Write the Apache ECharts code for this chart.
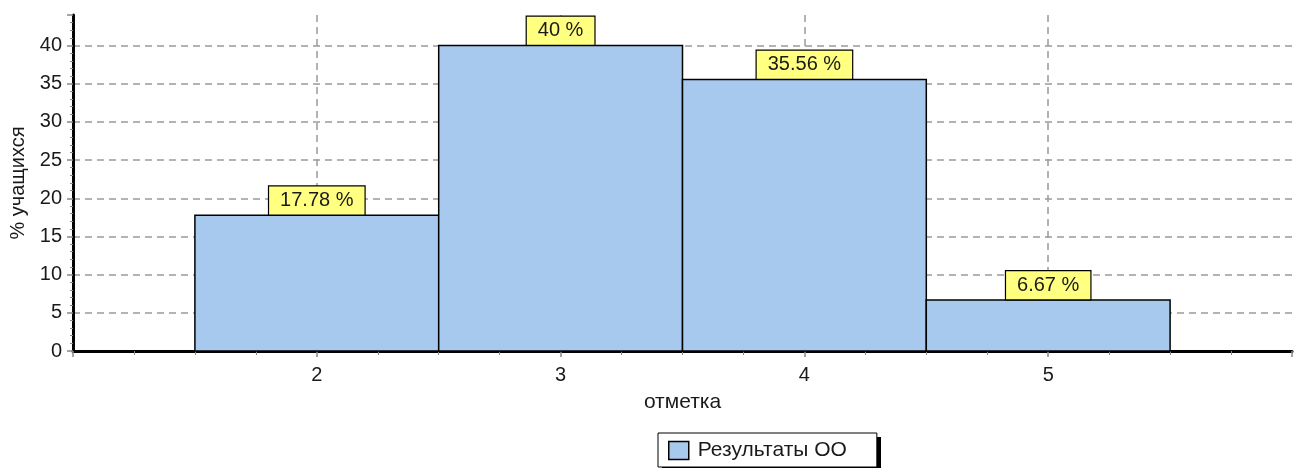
<!DOCTYPE html>
<html><head><meta charset="utf-8">
<script src="https://cdn.jsdelivr.net/npm/echarts@6/dist/echarts.min.js"></script>
<style>html,body{margin:0;padding:0;background:#fff}#c{width:1295px;height:468px}</style>
</head><body><div id="c"></div>
<script>
var marks = [2, 3, 4, 5];
var percents = [17.78, 40, 35.56, 6.67];
var seriesName = 'Результаты ОО';
var xTitle = 'отметка';
var yTitle = '% учащихся';

var data = marks.map(function(m, i){ return [m, percents[i]]; });
var FONT = 'Liberation Sans, Arial, sans-serif';
var BAR = '#a8c9ee';
var TXT = '#1a1a1a';

var chart = echarts.init(document.getElementById('c'));
chart.setOption({
  animation: false,
  backgroundColor: '#fff',
  textStyle: {fontFamily: FONT},
  grid: {left: 73, right: 2, top: 15, bottom: 117},
  graphic: [{
    type: 'rect', left: 662, top: 437, z: 0,
    shape: {width: 219, height: 33},
    style: {fill: '#000'}
  }],
  legend: {
    left: 658, top: 433,
    padding: [7, 30, 6, 10],
    itemWidth: 20, itemHeight: 18,
    backgroundColor: '#fff', borderColor: '#000', borderWidth: 1,
    z: 10,
    textStyle: {fontSize: 21, color: TXT, fontFamily: FONT, padding: [0,0,0,4]},
    data: [{name: seriesName, icon: 'rect', itemStyle: {color: BAR, borderColor: '#000', borderWidth: 1.5}}]
  },
  xAxis: {
    type: 'value', min: 1, max: 6, interval: 1,
    name: xTitle, nameLocation: 'middle', nameGap: 41,
    nameTextStyle: {fontSize: 21, color: TXT, fontFamily: FONT},
    axisLine: {onZero: false, lineStyle: {color: '#000', width: 3}},
    axisTick: {show: true, length: 6, lineStyle: {color: '#888', width: 1.5}},
    minorTick: {show: true, splitNumber: 4, length: 4, lineStyle: {color: '#888', width: 1}},
    axisLabel: {margin: 14, fontSize: 20, color: TXT, fontFamily: FONT,
      formatter: function(v){ return marks.indexOf(v) >= 0 ? String(v) : ''; }},
    splitLine: {show: true, showMinLine: false, showMaxLine: false,
      lineStyle: {color: '#9a9a9a', type: [7, 5], width: 1.5}}
  },
  yAxis: {
    type: 'value', min: 0, max: 44, interval: 5,
    name: yTitle, nameLocation: 'middle', nameGap: 44, nameRotate: 90,
    nameTextStyle: {fontSize: 20, color: TXT, fontFamily: FONT},
    axisLine: {show: true, lineStyle: {color: '#000', width: 3}},
    axisTick: {show: true, length: 6, lineStyle: {color: '#888', width: 1.5}},
    minorTick: {show: true, splitNumber: 5, length: 3, lineStyle: {color: '#888', width: 1}},
    axisLabel: {margin: 11, fontSize: 20, color: TXT, fontFamily: FONT, showMaxLabel: false,
      formatter: function(v){ return v % 5 === 0 ? String(v) : ''; }},
    splitLine: {show: true, showMinLine: false, showMaxLine: false,
      lineStyle: {color: '#9a9a9a', type: [7, 5], width: 1.5}}
  },
  series: [{
    type: 'custom',
    name: seriesName,
    data: data,
    itemStyle: {color: BAR},
    renderItem: function(params, api){
      var x = api.value(0), v = api.value(1);
      var p0 = api.coord([x - 0.5, v]);
      var p1 = api.coord([x + 0.5, 0]);
      return {
        type: 'rect',
        shape: {x: p0[0], y: p0[1], width: p1[0] - p0[0], height: p1[1] - p0[1]},
        style: {fill: BAR, stroke: '#000', lineWidth: 1.5},
        textContent: {
          style: {
            text: v + ' %', fontSize: 20, fontFamily: FONT, fill: TXT,
            backgroundColor: '#ffff80', borderColor: '#000', borderWidth: 1.2,
            padding: [4, 11, 4, 11]
          },
          z2: 100
        },
        textConfig: {position: 'top', distance: 0}
      };
    },
    z: 3
  }]
});
</script></body></html>
